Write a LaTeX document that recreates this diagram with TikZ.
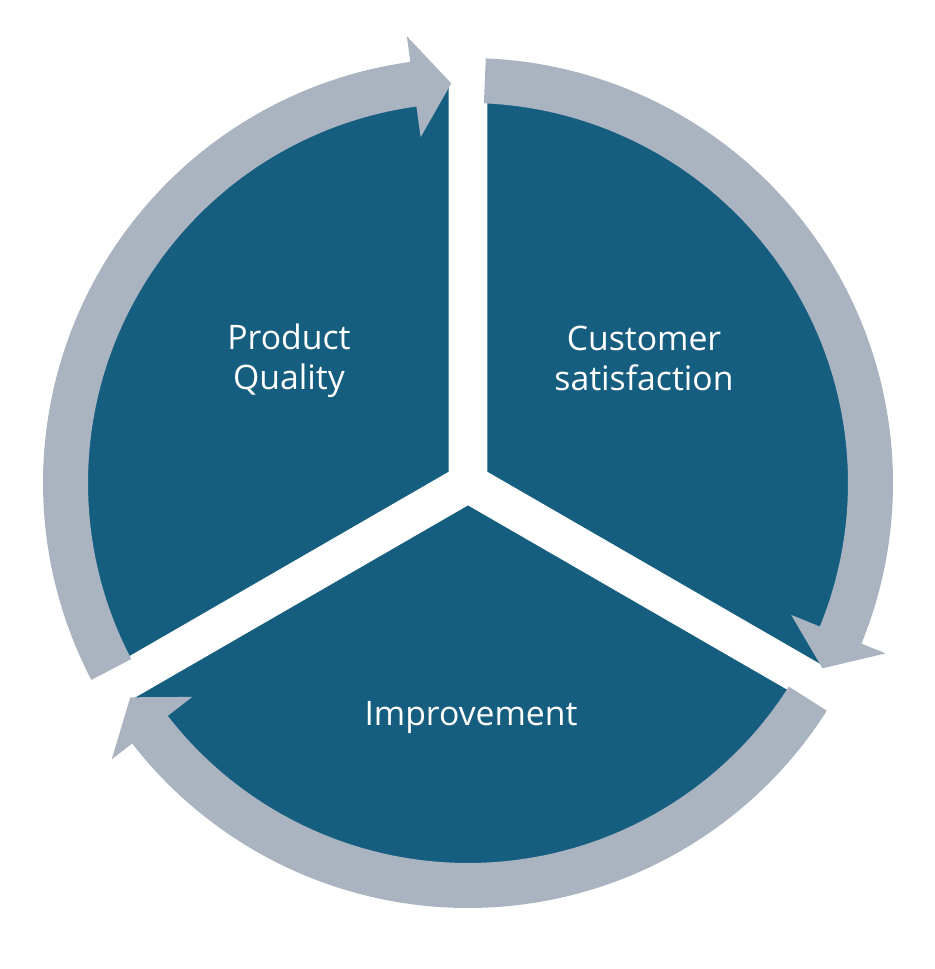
\documentclass[tikz,border=0pt]{standalone}
\usepackage{fontspec}
\setmainfont{Open Sans}
\definecolor{segblue}{RGB}{22,94,128}
\definecolor{ringgray}{RGB}{170,180,193}
\begin{document}
\begin{tikzpicture}[x=0.02cm, y=0.02cm,
    segment/.style={fill=segblue},
    cyclearrow/.style={fill=ringgray},
    segtext/.style={text=white, align=center, font=\fontsize{19.2}{22.8}\selectfont}]
\useasboundingbox (-468,-486) rectangle (467,483);
% three pie segments, pushed apart along their bisectors
\foreach \a in {90,-30,210}
    \fill[segment] ({\a+60}:22.5) -- ++(\a:388)
        arc[start angle=\a, end angle=\a+120, radius=388] -- cycle;
% curved arrows round the rim, clockwise
\foreach \s/\b/\t in {207.6/97.8/92.4, 87.6/-22.2/-27.6, -32.4/-142.2/-147.6}
    \fill[cyclearrow] (\s:380) arc[start angle=\s, end angle=\b, radius=380]
        -- (\b:349) -- (\t:400) -- (\b:451) -- (\b:425)
        arc[start angle=\b, end angle=\s, radius=425] -- cycle;
\node[segtext] (quality) at (-179,122) {Product\\Quality};
\node[segtext] (satisfaction) at (176,125) {Customer\\satisfaction};
\node[segtext] (improvement) at (3,-235) {Improvement};
\end{tikzpicture}
\end{document}
